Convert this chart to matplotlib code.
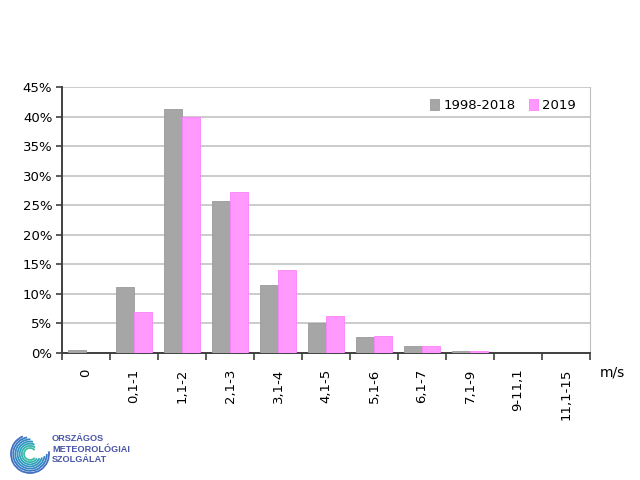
import matplotlib
matplotlib.use("Agg")
import matplotlib.pyplot as plt
import numpy as np
from matplotlib.patches import Arc

categories = ["0", "0,1-1", "1,1-2", "2,1-3", "3,1-4", "4,1-5", "5,1-6", "6,1-7", "7,1-9", "9-11,1", "11,1-15"]
series_names = ["1998-2018", "2019"]
vals_1998_2018 = [0.5, 11.1, 41.3, 25.7, 11.5, 5.0, 2.7, 1.2, 0.35, 0.03, 0.0]
vals_2019 = [0.0, 6.9, 39.9, 27.2, 14.1, 6.3, 2.9, 1.2, 0.3, 0.0, 0.0]
yticks = [0, 5, 10, 15, 20, 25, 30, 35, 40, 45]

fig = plt.figure(figsize=(6.4, 4.8), dpi=100)
ax = fig.add_axes([62/640, 1-353/480, (590-62)/640, (353-87)/480])

x = np.arange(len(categories))
w = 0.375
ax.bar(x - w/2, vals_1998_2018, width=w, color="#a6a6a6", edgecolor="#9a9a9a", linewidth=0.6, label=series_names[0], zorder=3)
ax.bar(x + w/2, vals_2019, width=w, color="#ff99ff", edgecolor="#ff80ff", linewidth=0.6, label=series_names[1], zorder=3)

ax.set_xlim(-0.5, len(categories) - 0.5)
ax.set_ylim(0, 45)
ax.set_yticks(yticks)
ax.set_yticklabels([f"{t}%" for t in yticks], fontsize=9.5)
ax.yaxis.grid(True, color="#bdbdbd", linewidth=1.1, zorder=0)
ax.set_axisbelow(True)

ax.set_xticks(x)
ax.set_xticklabels(categories, rotation=90, fontsize=9.5)
ax.tick_params(axis="x", length=0, pad=11)
ax.set_xticks(np.arange(-0.5, len(categories)), minor=True)
ax.tick_params(axis="x", which="minor", length=5, width=1.2, color="#404040")
ax.tick_params(axis="y", length=4, width=1.2, color="#404040", pad=3)

for s in ["left", "bottom"]:
    ax.spines[s].set_color("#404040")
    ax.spines[s].set_linewidth(1.4)
ax.spines["right"].set_color("#c0c0c0")
ax.spines["top"].set_visible(False)

ax.legend(loc="upper right", frameon=False, fontsize=9.5, handlelength=0.7, handleheight=0.9,
          handletextpad=0.3, ncol=2, columnspacing=1.0, bbox_to_anchor=(0.995, 1.0))

fig.text(600/640, 1-373/480, "m/s", fontsize=10, ha="left", va="center")

# Logo
lax = fig.add_axes([10/640, 1-474/480, 40/640, 40/480])
lax.set_xlim(-1, 1); lax.set_ylim(-1, 1); lax.set_aspect("equal"); lax.axis("off")
cols = ["#3cc0a0", "#36b2ae", "#2ea4b8", "#2f96c2", "#3588c6", "#3b7bc4", "#4470c0"]
for i, r in enumerate(np.linspace(0.3, 0.95, 7)):
    lax.add_patch(Arc((0, 0), 2*r, 2*r, theta1=40 + i*12, theta2=320 + i*8,
                      color=cols[i], lw=1.3))
fig.text(52/640, 1-449/480, "ORSZÁGOS\nMETEOROLÓGIAI\nSZOLGÁLAT", fontsize=6.6,
         family="Liberation Sans", fontweight="bold",
         color="#4a55a8", ha="left", va="center", linespacing=1.15)

fig.savefig("out.png", dpi=100)
